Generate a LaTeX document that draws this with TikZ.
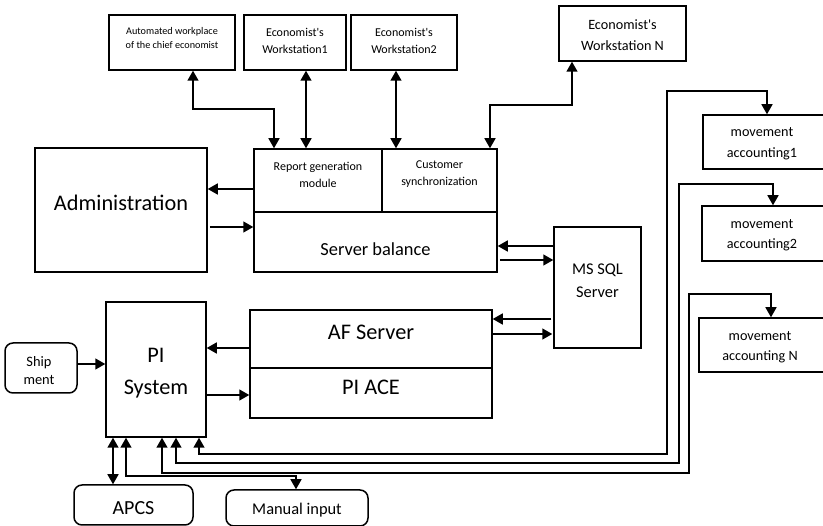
\documentclass[tikz,border=0pt]{standalone}
\usepackage{fontspec}
\setmainfont{Carlito}
\usetikzlibrary{arrows.meta}
\newcommand{\apos}{\textquotesingle}
\begin{document}
\begin{tikzpicture}[x=1pt,y=-1pt,
  box/.style={draw, line width=1.5pt, inner sep=0pt},
  rbox/.style={box, rounded corners=8pt},
  txt/.style={inner sep=0pt, align=center},
  tip/.tip={Triangle[length=10pt,width=11pt]},
  conn/.style={line width=1.5pt, -tip},
  dbl/.style={line width=1.5pt, tip-tip},
  fA/.style={txt,font=\fontsize{10.2}{14}\selectfont},
  fB/.style={txt,font=\fontsize{12}{17}\selectfont},
  fC/.style={txt,font=\fontsize{14.2}{20.5}\selectfont},
  fD/.style={txt,font=\fontsize{22.3}{32}\selectfont},
  fE/.style={txt,font=\fontsize{18.4}{24}\selectfont},
  fF/.style={txt,font=\fontsize{16.4}{23}\selectfont}]
\clip (0,0) rectangle (823,526);
% top workstation boxes
\node[box,minimum width=126pt,minimum height=55pt] (aw) at (172,42.5) {};
\node[fA] (awT) at ([yshift=4.5pt]aw.center) {Automated workplace\\of the chief economist};
\node[box,minimum width=102pt,minimum height=55pt] (ws1) at (295,42.5) {};
\node[fB] (ws1T) at ([yshift=2pt]ws1.center) {Economist\apos s\\Workstation1};
\node[box,minimum width=106pt,minimum height=55pt] (ws2) at (404,42.5) {};
\node[fB] (ws2T) at ([yshift=2pt]ws2.center) {Economist\apos s\\Workstation2};
\node[box,minimum width=127pt,minimum height=55pt] (wsn) at (622.5,33.5) {};
\node[fC] (wsnT) at ([yshift=-1.5pt]wsn.center) {Economist\apos s\\Workstation N};
% server block
\node[box,minimum width=128pt,minimum height=63pt] (rep) at (318,180.5) {};
\node[fB] (repT) at ([yshift=6pt]rep.center) {Report generation\\module};
\node[box,minimum width=115pt,minimum height=63pt] (cus) at (439.5,180.5) {};
\node[fB] (cusT) at ([yshift=6pt]cus.center) {Customer\\synchronization};
\node[box,minimum width=243pt,minimum height=60pt] (sb) at (375.5,242) {};
\node[fE] (sbT) at ([yshift=-7pt]sb.center) {Server balance};
\node[box,minimum width=172pt,minimum height=124pt] (adm) at (121,210) {};
\node[fD] (admT) at ([yshift=7pt]adm.center) {Administration};
\node[box,minimum width=87pt,minimum height=121pt] (sql) at (597.5,287.5) {};
\node[fF] (sqlT) at ([yshift=7pt]sql.center) {MS SQL\\Server};
% PI block
\node[box,minimum width=242pt,minimum height=58pt] (af) at (371,339) {};
\node[fD] (afT) at ([yshift=7pt]af.center) {AF Server};
\node[box,minimum width=242pt,minimum height=50pt] (ace) at (371,393) {};
\node[fD] (aceT) at ([yshift=6pt]ace.center) {PI ACE};
\node[box,minimum width=100pt,minimum height=135pt] (pi) at (156,369.5) {};
\node[fD] (piT) at ([yshift=-3.5pt]pi.center) {PI\\System};
\node[rbox,minimum width=72pt,minimum height=50pt] (ship) at (41,368) {};
\node[txt,font=\fontsize{14.4}{17.5}\selectfont] (shipT) at ([xshift=-2pt,yshift=-2.5pt]ship.center) {Ship\\ment};
\node[rbox,minimum width=119pt,minimum height=40pt] (apcs) at (133.5,505) {};
\node[txt,font=\fontsize{20}{24}\selectfont] (apcsT) at ([yshift=-3pt]apcs.center) {APCS};
\node[rbox,minimum width=142pt,minimum height=36pt] (man) at (297,508) {};
\node[fF] (manT) at ([yshift=-2pt]man.center) {Manual input};
% movement accounting
\node[box,minimum width=124pt,minimum height=54pt] (ma1) at (765,142) {};
\node[fC] (ma1T) at (762,143.5) {movement\\accounting1};
\node[box,minimum width=126pt,minimum height=55pt] (ma2) at (765,233.5) {};
\node[fC] (ma2T) at (762,235) {movement\\accounting2};
\node[box,minimum width=130pt,minimum height=54pt] (ma3) at (764,345) {};
\node[fC] (ma3T) at (760,347) {movement\\accounting N};
% top connectors
\draw[dbl] (aw.south -| 193,0) |- (274,109) -- (rep.north -| 274,0);
\draw[dbl] (ws1.south -| 306,0) -- (rep.north -| 306,0);
\draw[dbl] (ws2.south -| 396,0) -- (cus.north -| 396,0);
\draw[dbl] (wsn.south -| 572,0) |- (490,105) -- (cus.north -| 490,0);
% admin
\draw[conn] (rep.west |- 0,189) -- (adm.east |- 0,189);
\draw[conn] ([xshift=2pt]adm.east |- 0,227) -- (sb.west |- 0,227);
% sql
\draw[conn] (sql.west |- 0,246) -- (sb.east |- 0,246);
\draw[conn] ([xshift=2pt]sb.east |- 0,260) -- (sql.west |- 0,260);
\draw[conn] ([xshift=-2pt]sql.west |- 0,319) -- (af.east |- 0,319);
\draw[conn] (af.east |- 0,334) -- ([xshift=-1pt]sql.west |- 0,334);
% PI
\draw[conn] (af.west |- 0,348) -- (pi.east |- 0,348);
\draw[conn] (pi.east |- 0,395) -- (ace.west |- 0,395);
\draw[conn] (ship.east |- 0,364) -- (pi.west |- 0,364);
\draw[dbl] (pi.south -| 113,0) -- (apcs.north -| 113,0);
\draw[dbl] (pi.south -| 126,0) |- (296,476) -- (man.north -| 296,0);
\draw[dbl] (pi.south -| 199,0) |- (667,454) |- (767,91) -- (ma1.north -| 767,0);
\draw[dbl] (pi.south -| 176,0) |- (679,463) |- (773,184) -- (ma2.north -| 773,0);
\draw[dbl] (pi.south -| 162,0) |- (689,473) |- (771,294) -- (ma3.north -| 771,0);
\end{tikzpicture}
\end{document}
